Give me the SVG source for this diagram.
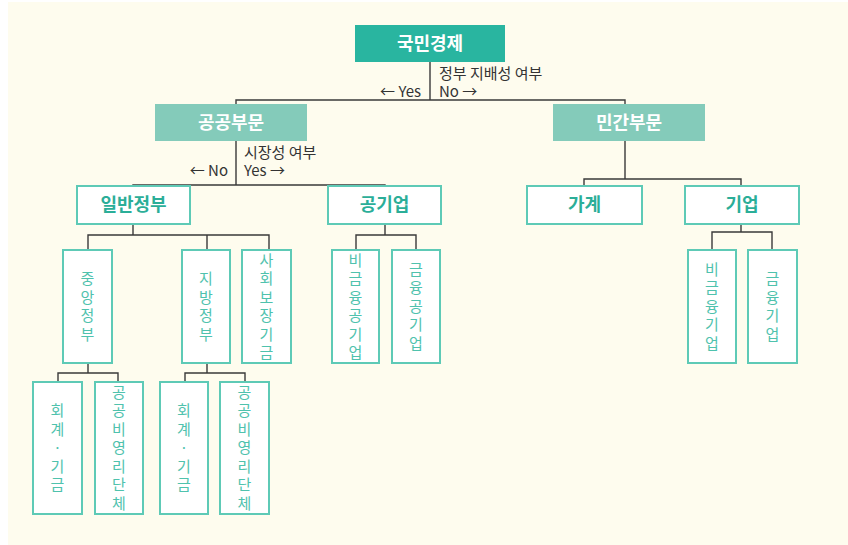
<svg xmlns="http://www.w3.org/2000/svg" width="848" height="545" viewBox="0 0 848 545">
<style>
.conn{fill:none;stroke:#3a3a3a;stroke-width:1.4}
.top{fill:#29B5A0}
.mid{fill:#84CBBA}
.hd{font-family:"Noto Sans CJK KR","Noto Sans",sans-serif;font-weight:bold;font-size:18px;fill:#fff;text-anchor:middle}
.bx{fill:#fff;stroke:#5ECAB6;stroke-width:2}
.ht{font-family:"Noto Sans CJK KR","Noto Sans",sans-serif;font-weight:bold;font-size:18px;fill:#2BAE98;text-anchor:middle}
.vt{font-family:"Noto Sans CJK KR","Noto Sans",sans-serif;font-size:15px;fill:#4FC2AD;text-anchor:middle;writing-mode:vertical-rl;text-orientation:upright;letter-spacing:3.5px}
.lb{font-family:"Noto Sans CJK KR","Noto Sans",sans-serif;font-size:15px;fill:#333}
</style>
<rect width="848" height="545" fill="#ffffff"/>
<rect x="8" y="2" width="840" height="543" fill="#FEFCEE"/>
<g id="connectors">
<path class="conn" d="M430 62V100M236 104V100H625V104"/>
<path class="conn" d="M236 141V185M133 186V185H385V186"/>
<path class="conn" d="M625 141V179M584 186V179H741V186"/>
<path class="conn" d="M133 224V235M88 250V235H269V250M207 235V250"/>
<path class="conn" d="M385 224V235M356 250V235H416V250"/>
<path class="conn" d="M741 224V232M712 250V232H772V250"/>
<path class="conn" d="M88 363V373M58 382V373H118V382"/>
<path class="conn" d="M207 363V373M185 382V373H245V382"/>
<text class="lb"><tspan x="439" y="79">정부 지배성 여부</tspan><tspan x="439" y="97">No →</tspan></text>
<text class="lb" x="421" y="97" text-anchor="end">← Yes</text>
<text class="lb"><tspan x="244" y="158">시장성 여부</tspan><tspan x="244" y="176">Yes →</tspan></text>
<text class="lb" x="228" y="176" text-anchor="end">← No</text>
</g>
<g id="n-kukmin"><rect class="top" x="355" y="25" width="150" height="37"/><text class="hd" x="430" y="50">국민경제</text></g>
<g id="n-public"><rect class="mid" x="155" y="104" width="152" height="37"/><text class="hd" x="231" y="129">공공부문</text></g>
<g id="n-private"><rect class="mid" x="553" y="104" width="152" height="37"/><text class="hd" x="629" y="129">민간부문</text></g>
<g id="n-gengov"><rect class="bx" x="77" y="186" width="113" height="38"/><text class="ht" x="133.5" y="211">일반정부</text></g>
<g id="n-pubcorp"><rect class="bx" x="328" y="186" width="113" height="38"/><text class="ht" x="384.5" y="211">공기업</text></g>
<g id="n-household"><rect class="bx" x="527" y="186" width="115" height="38"/><text class="ht" x="584.5" y="211">가계</text></g>
<g id="n-firm"><rect class="bx" x="685" y="186" width="114" height="38"/><text class="ht" x="742" y="211">기업</text></g>
<g id="n-central"><rect class="bx" x="63" y="250" width="49" height="113"/><text class="vt" x="87.5" y="308">중앙정부</text></g>
<g id="n-local"><rect class="bx" x="182" y="250" width="48" height="113"/><text class="vt" x="206" y="308">지방정부</text></g>
<g id="n-social"><rect class="bx" x="242" y="250" width="49" height="113"/><text class="vt" x="266.5" y="308">사회보장기금</text></g>
<g id="n-nonfinpub"><rect class="bx" x="332" y="250" width="47" height="113"/><text class="vt" x="355.5" y="308">비금융공기업</text></g>
<g id="n-finpub"><rect class="bx" x="392" y="250" width="48" height="113"/><text class="vt" x="416" y="308">금융공기업</text></g>
<g id="n-nonfinfirm"><rect class="bx" x="688" y="250" width="48" height="113"/><text class="vt" x="712" y="308">비금융기업</text></g>
<g id="n-finfirm"><rect class="bx" x="748" y="250" width="49" height="113"/><text class="vt" x="772.5" y="308">금융기업</text></g>
<g id="n-c-fund"><rect class="bx" x="33" y="382" width="49" height="132"/><text class="vt" x="57.5" y="449.5">회계·기금</text></g>
<g id="n-c-npo"><rect class="bx" x="95" y="382" width="48" height="132"/><text class="vt" x="119" y="449.5">공공비영리단체</text></g>
<g id="n-l-fund"><rect class="bx" x="160" y="382" width="48" height="132"/><text class="vt" x="184" y="449.5">회계·기금</text></g>
<g id="n-l-npo"><rect class="bx" x="220" y="382" width="49" height="132"/><text class="vt" x="244.5" y="449.5">공공비영리단체</text></g>
</svg>
